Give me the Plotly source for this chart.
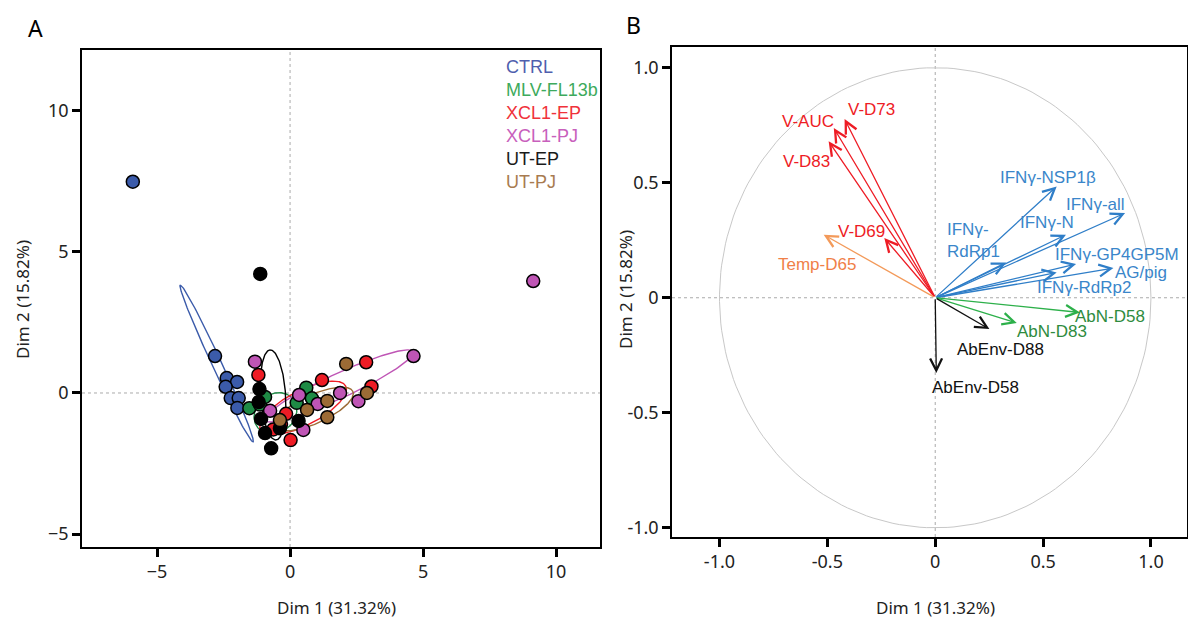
import numpy as np
import plotly.graph_objects as go

# ---- Panel A: individuals (PCA scores) ----
groups = ["CTRL", "MLV-FL13b", "XCL1-EP", "XCL1-PJ", "UT-EP", "UT-PJ"]
point_colors = ["#3B5BAA", "#1E8B45", "#EE1C25", "#BF55B5", "#000000", "#9C6B35"]
legend_colors = ["#4F5FAE", "#3DAA5C", "#F0323A", "#C860BC", "#1A1A1A", "#A87B50"]

ctrl_x = [-5.91, -2.82, -2.38, -1.99, -2.42, -2.23, -1.93, -1.98]
ctrl_y = [7.49, 1.31, 0.53, 0.39, 0.22, -0.18, -0.18, -0.53]
mlv_x = [-1.53, -1.13, 0.25, 0.61, 0.82, -0.94]
mlv_y = [-0.54, -0.41, -0.35, 0.19, -0.19, -0.14]
xep_x = [-1.19, 1.20, 2.86, 3.06, -0.15, -0.63, 0.02, -0.34]
xep_y = [0.64, 0.46, 1.09, 0.23, -0.74, -1.29, -1.67, -1.10]
xpj_x = [-1.32, -0.75, 0.50, 1.04, 1.88, 2.57, 4.64, 9.14, 0.34]
xpj_y = [1.11, -0.63, -1.31, -0.39, 0.00, -0.29, 1.31, 3.97, -0.07]
utep_x = [-1.12, -1.15, -1.18, -1.09, -0.94, -0.71, -0.38, 0.32]
utep_y = [4.22, 0.14, -0.32, -0.92, -1.42, -1.96, -1.25, -0.99]
utpj_x = [2.11, 1.40, 1.40, 2.89, -0.38, 0.64]
utpj_y = [1.03, -0.28, -0.86, 0.00, -0.96, -0.60]

scores_x = [ctrl_x, mlv_x, xep_x, xpj_x, utep_x, utpj_x]
scores_y = [ctrl_y, mlv_y, xep_y, xpj_y, utep_y, utpj_y]

# confidence ellipses: centre, semi-axes, angle (deg)
ell_cx = [-2.76, -0.55, 0.49, 1.84, -0.64, 0.90]
ell_cy = [1.05, -0.72, -0.53, 0.25, -0.07, -0.57]
ell_a = [3.10, 0.84, 1.78, 3.04, 1.60, 1.59]
ell_b = [0.18, 0.69, 0.62, 0.44, 0.47, 0.51]
ell_ang = [116.2, 30.0, 25.6, 23.5, 94.0, 22.9]

# ---- Panel B: variables (correlation circle) ----
var_names = ["V-D73", "V-AUC", "V-D83", "V-D69", "Temp-D65",
             "IFNγ-NSP1β", "IFNγ-all", "IFNγ-N", "IFNγ-<br>RdRp1",
             "IFNγ-GP4GP5M", "IFNγ-RdRp2", "AG/pig",
             "AbN-D58", "AbN-D83", "AbEnv-D88", "AbEnv-D58"]
var_x = [-0.42, -0.47, -0.494, -0.236, -0.517,
         0.563, 0.880, 0.606, 0.329,
         0.653, 0.563, 0.826,
         0.671, 0.378, 0.251, 0.005]
var_y = [0.777, 0.738, 0.680, 0.260, 0.274,
         0.484, 0.368, 0.274, 0.153,
         0.147, 0.110, 0.129,
         -0.064, -0.110, -0.136, -0.327]
lab_x = [-0.296, -0.588, -0.597, -0.343, -0.546,
         0.523, 0.741, 0.519, 0.046,
         0.843, 0.690, 0.955,
         0.810, 0.542, 0.301, 0.185]
lab_y = [0.817, 0.765, 0.591, 0.287, 0.143,
         0.522, 0.404, 0.326, 0.248,
         0.190, 0.044, 0.111,
         -0.083, -0.148, -0.226, -0.391]
lab_anchor = ["center"] * 8 + ["left"] + ["center"] * 7
red, orange, blue, green, black = "#EE1C25", "#F39A5A", "#2F7EC8", "#2DB04A", "#111111"
var_line_colors = [red, red, red, red, orange,
                   blue, blue, blue, blue, blue, blue, blue,
                   green, green, black, black]
var_text_colors = [red, red, red, red, "#F08048",
                   "#3A86CA", "#3A86CA", "#3A86CA", "#3A86CA", "#3A86CA", "#3A86CA", "#3A86CA",
                   "#2E8B3E", "#2E8B3E", black, black]

# page body has an 8px margin, so the figure is 1180x612 placed at (8, 8)
W, H, OFF = 1180, 612, 8


def px(p):
    return min(max((p - OFF) / W, 0), 1)


def py(p):
    return min(max(1 - (p - OFF) / H, 0), 1)


fig = go.Figure()

# ellipses
t = np.linspace(0, 2 * np.pi, 200)
for i, g in enumerate(groups):
    th = np.radians(ell_ang[i])
    ex = ell_cx[i] + ell_a[i] * np.cos(t) * np.cos(th) - ell_b[i] * np.sin(t) * np.sin(th)
    ey = ell_cy[i] + ell_a[i] * np.cos(t) * np.sin(th) + ell_b[i] * np.sin(t) * np.cos(th)
    fig.add_trace(go.Scatter(x=ex, y=ey, mode="lines", xaxis="x", yaxis="y",
                             line=dict(color=point_colors[i], width=1.4),
                             showlegend=False, hoverinfo="skip"))

# points
for i, g in enumerate(groups):
    fig.add_trace(go.Scatter(x=scores_x[i], y=scores_y[i], mode="markers", name=g,
                             xaxis="x", yaxis="y",
                             marker=dict(size=13, color=point_colors[i],
                                         line=dict(color="black", width=1.5)),
                             showlegend=False))

# unit circle panel B
fig.add_trace(go.Scatter(x=np.cos(t), y=np.sin(t), mode="lines", xaxis="x2", yaxis="y2",
                         line=dict(color="#C8C8C8", width=1), showlegend=False, hoverinfo="skip"))

annotations = []
# legend text
for i, g in enumerate(groups):
    annotations.append(dict(xref="paper", yref="paper", x=px(504), y=py(67 + 23 * i),
                            text=g, showarrow=False, xanchor="left", yanchor="middle",
                            font=dict(family="Liberation Sans", size=18, color=legend_colors[i])))

# arrows
for i, n in enumerate(var_names):
    annotations.append(dict(xref="x2", yref="y2", axref="x2", ayref="y2",
                            x=var_x[i], y=var_y[i], ax=0, ay=0, text="",
                            showarrow=True, arrowhead=5, arrowsize=1.8, arrowwidth=1.3,
                            arrowcolor=var_line_colors[i], standoff=0, startstandoff=0))
    annotations.append(dict(xref="x2", yref="y2", x=lab_x[i], y=lab_y[i], text=n,
                            showarrow=False, xanchor=lab_anchor[i], yanchor="middle",
                            align="left",
                            font=dict(family="Liberation Sans", size=17, color=var_text_colors[i])))

axis_font = dict(family="Noto Sans", size=17, color="#222222")
# axis titles and panel letters
annotations += [
    dict(xref="paper", yref="paper", x=px(336), y=py(607), text="Dim 1 (31.32%)",
         showarrow=False, xanchor="center", yanchor="middle", font=axis_font),
    dict(xref="paper", yref="paper", x=px(935), y=py(607), text="Dim 1 (31.32%)",
         showarrow=False, xanchor="center", yanchor="middle", font=axis_font),
    dict(xref="paper", yref="paper", x=px(22), y=py(300), text="Dim 2 (15.82%)",
         showarrow=False, textangle=-90, xanchor="center", yanchor="middle", font=axis_font),
    dict(xref="paper", yref="paper", x=px(626), y=py(290), text="Dim 2 (15.82%)",
         showarrow=False, textangle=-90, xanchor="center", yanchor="middle", font=axis_font),
    dict(xref="paper", yref="paper", x=px(35), y=py(28), text="A", xanchor="center", yanchor="middle",
         showarrow=False, font=dict(family="Noto Sans", size=23, color="black")),
    dict(xref="paper", yref="paper", x=px(633), y=py(25), text="B", xanchor="center", yanchor="middle",
         showarrow=False, font=dict(family="Noto Sans", size=23, color="black")),
]

shapes = []
for xr, yr in [("x", "y"), ("x2", "y2")]:
    shapes.append(dict(type="line", xref=xr, yref=yr + " domain", x0=0, x1=0, y0=0, y1=1,
                       line=dict(color="#AAAAAA", width=1, dash="dot"), layer="below"))
    shapes.append(dict(type="line", xref=xr + " domain", yref=yr, x0=0, x1=1, y0=0, y1=0,
                       line=dict(color="#AAAAAA", width=1, dash="dot"), layer="below"))

tick_font = dict(family="Noto Sans", size=18, color="#222222")
ax_common = dict(showgrid=False, zeroline=False, showline=True, linecolor="black", linewidth=1.5,
                 mirror=True, ticks="outside", ticklen=8, tickwidth=3, tickcolor="black",
                 tickfont=tick_font, automargin=False)

fig.update_layout(
    width=W, height=H,
    margin=dict(l=0, r=0, t=0, b=0),
    paper_bgcolor="white", plot_bgcolor="white",
    showlegend=False,
    xaxis=dict(domain=[px(82), px(600)], range=[-7.82, 11.65],
               tickvals=[-5, 0, 5, 10], anchor="y", **ax_common),
    yaxis=dict(domain=[py(547), py(50)], range=[-5.46, 12.16],
               tickvals=[-5, 0, 5, 10], anchor="x", **ax_common),
    xaxis2=dict(domain=[px(672), px(1187)], range=[-1.22, 1.167],
                tickvals=[-1, -0.5, 0, 0.5, 1], ticktext=["-1.0", "-0.5", "0", "0.5", "1.0"],
                anchor="y2", **ax_common),
    yaxis2=dict(domain=[py(537), py(47)], range=[-1.04, 1.09],
                tickvals=[-1, -0.5, 0, 0.5, 1], ticktext=["-1.0", "-0.5", "0", "0.5", "1.0"],
                anchor="x2", **ax_common),
    annotations=annotations,
    shapes=shapes,
)

fig.write_html("out.html")
